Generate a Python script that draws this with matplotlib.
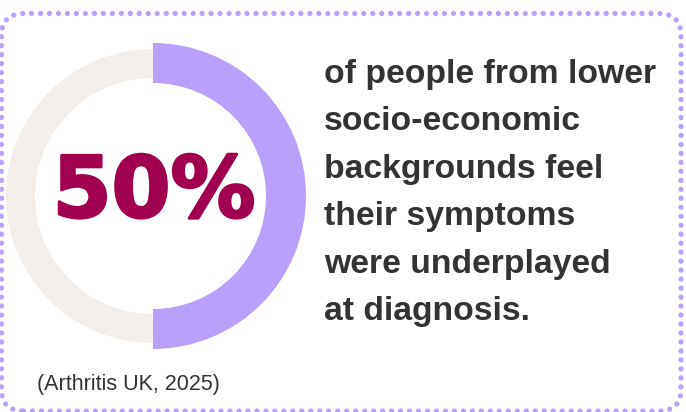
import matplotlib.pyplot as plt
import matplotlib.patheffects as pe
from matplotlib.patches import FancyBboxPatch

# data
share = [50, 50]
big_label = "50%"
statement = ["of people from lower", "socio-economic", "backgrounds feel",
             "their symptoms", "were underplayed", "at diagnosis."]
source = "(Arthritis UK, 2025)"

W, H = 686, 412
fig = plt.figure(figsize=(W / 100, H / 100), dpi=100)
ax = fig.add_axes([0, 0, 1, 1])

# dotted rounded frame
frame = FancyBboxPatch((1.5, 1), 679.5, H - 14.5, boxstyle="round,pad=0,rounding_size=22",
                       fill=False, edgecolor="#b9a2fb", linewidth=3.8,
                       linestyle=(0, (0.001, 1.7)), capstyle="round")
ax.add_patch(frame)

cx, cy = 153, H - 196
# beige track (thinner) and purple share (thicker), drawn as pie slices
ax.pie([share[1]], radius=147, center=(cx, cy), colors=["#f3eeea"],
       startangle=90, wedgeprops=dict(width=29), frame=True)
ax.pie([share[0], share[1]], radius=153, center=(cx, cy), colors=["#b9a0fd", "none"],
       startangle=90, counterclock=False, wedgeprops=dict(width=40, linewidth=0), frame=True)
ax.set_xlim(0, W)
ax.set_ylim(0, H)
ax.set_aspect("equal")
ax.axis("off")

ax.text(cx + 1, H - 217, big_label, ha="center", va="baseline", fontsize=61,
        fontweight="bold", color="#a1004e", family="DejaVu Sans",
        path_effects=[pe.withStroke(linewidth=2, foreground="#a1004e")])

y0 = H - 82.5
for i, line in enumerate(statement):
    ax.text(324, y0 - i * 47.5, line, ha="left", va="baseline", fontsize=24.3,
            fontweight="bold", color="#333333", family="Liberation Sans")

ax.text(37, H - 390, source, ha="left", va="baseline", fontsize=15.5,
        color="#333333", family="Liberation Sans")

fig.savefig("out.png", dpi=100)
